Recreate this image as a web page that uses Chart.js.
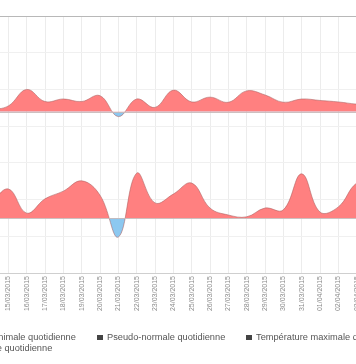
<!DOCTYPE html>
<html><head><meta charset="utf-8">
<script src="https://cdn.jsdelivr.net/npm/chart.js@4/dist/chart.umd.min.js"></script>
<style>
html,body{margin:0;padding:0;width:356px;height:364px;overflow:hidden;background:#fff;position:relative;font-family:"Liberation Sans",Arial,sans-serif}
#c{position:absolute;left:-20px;top:0}
.lg{position:absolute;font-size:9.25px;color:#555;white-space:nowrap;line-height:11px;height:11px}
.lg i{display:inline-block;width:5.5px;height:5.5px;background:#444;margin-right:4.5px;vertical-align:0px}
</style></head>
<body>
<canvas id="c" width="425" height="364"></canvas>
<div class="lg" style="left:-76px;top:332px"><i></i>Température minimale quotidienne</div>
<div class="lg" style="left:97px;top:332px"><i></i>Pseudo-normale quotidienne</div>
<div class="lg" style="left:246px;top:332px"><i></i>Température maximale quotidienne</div>
<div class="lg" style="left:-76px;top:343px"><i></i>Pseudo-normale quotidienne</div>
<script>
const dates = ['14/03/2015','15/03/2015','16/03/2015','17/03/2015','18/03/2015','19/03/2015','20/03/2015','21/03/2015','22/03/2015','23/03/2015','24/03/2015','25/03/2015','26/03/2015','27/03/2015','28/03/2015','29/03/2015','30/03/2015','31/03/2015','01/04/2015','02/04/2015','03/04/2015','04/04/2015'];
const topSeries = [4.44, 4.55, 5.00, 4.67, 4.74, 4.67, 4.83, 4.26, 4.74, 4.51, 4.98, 4.66, 4.79, 4.65, 4.96, 4.85, 4.65, 4.74, 4.70, 4.66, 4.60, 4.58];
const topBaseline = 4.39;
const bottomSeries = [1.85, 2.29, 1.63, 2.02, 2.23, 2.51, 2.12, 0.98, 2.72, 1.91, 2.15, 2.45, 1.77, 1.58, 1.53, 1.77, 1.72, 2.70, 1.66, 1.80, 2.45, 2.53];
const bottomBaseline = 1.5;
const yMin = 0, yMax = 7;

const RED = 'rgb(255,128,128)';
const EDGE = 'rgba(170,95,95,0.55)';
const BLUE = 'rgb(140,200,240)';

const baselinePlugin = {
  id: 'baselines',
  afterDatasetsDraw(chart) {
    const {ctx, chartArea: a, scales: {y}} = chart;
    ctx.save();
    ctx.strokeStyle = 'rgba(200,185,185,0.9)';
    ctx.lineWidth = 1;
    [topBaseline, bottomBaseline].forEach(v => {
      const py = Math.round(y.getPixelForValue(v)) + 0.5;
      ctx.beginPath(); ctx.moveTo(a.left, py); ctx.lineTo(a.right, py); ctx.stroke();
    });
    ctx.restore();
  }
};

function ds(values, base) {
  return {
    data: values,
    fill: {target: {value: base}, above: RED, below: BLUE},
    borderColor: EDGE,
    borderWidth: 1,
    pointRadius: 0,
    tension: 0.4
  };
}

new Chart(document.getElementById('c'), {
  type: 'line',
  data: {labels: dates, datasets: [ds(topSeries, topBaseline), ds(bottomSeries, bottomBaseline)]},
  options: {
    responsive: false, animation: false, devicePixelRatio: 1,
    layout: {padding: {left: 10, right: 30, top: 16, bottom: 0}},
    plugins: {legend: {display: false}, tooltip: {enabled: false}},
    scales: {
      x: {
        grid: {color: '#ececec', drawTicks: false},
        border: {color: '#cfcfcf'},
        ticks: {autoSkip: false, maxRotation: 90, minRotation: 90, padding: 3,
                font: {size: 7, family: 'Liberation Sans'}, color: '#8c8c8c'},
        afterFit(s) { s.height = 91; }
      },
      y: {
        min: yMin, max: yMax,
        ticks: {display: false, stepSize: 1},
        grid: {drawTicks: false, color: c => c.tick.value === yMax ? '#b8b8b8' : '#f0f0f0'},
        border: {display: false}
      }
    }
  },
  plugins: [baselinePlugin]
});
</script>
</body></html>
